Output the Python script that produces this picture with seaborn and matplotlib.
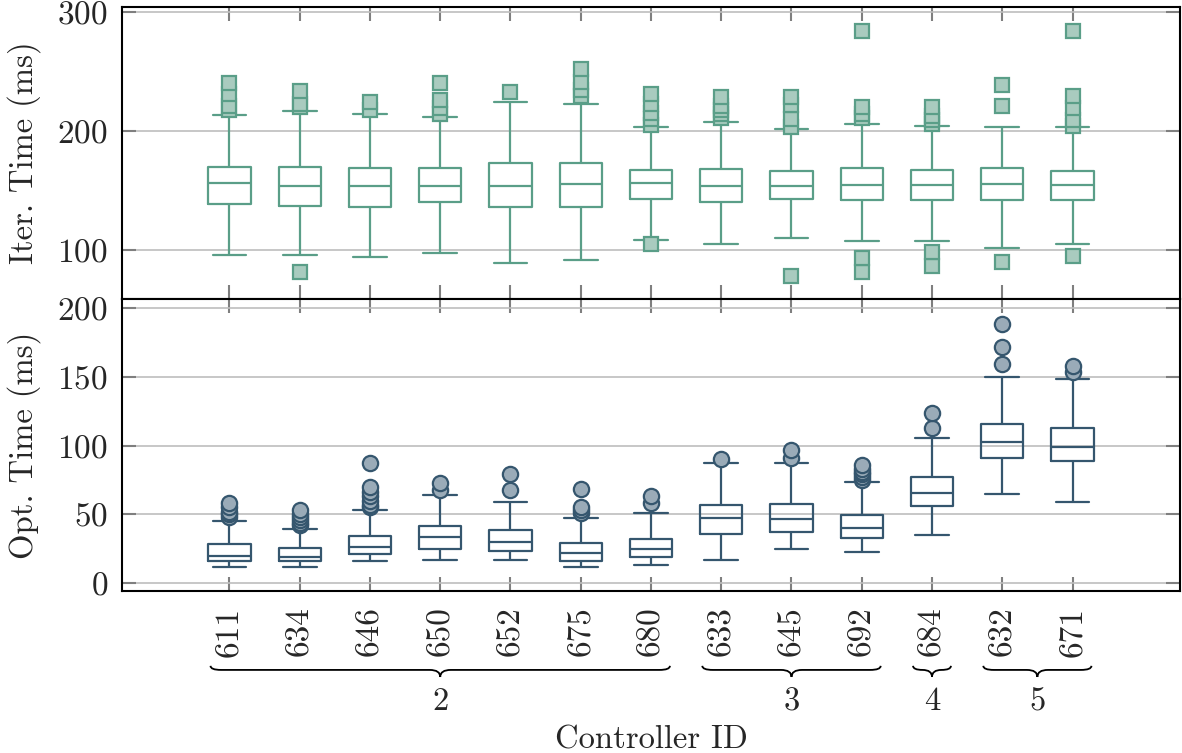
#
# Iteration / optimisation time per controller, grouped boxplots
#

import matplotlib
matplotlib.use("Agg")
import matplotlib.pyplot as plt
import matplotlib.transforms as mtransforms
from matplotlib.path import Path
from matplotlib.patches import PathPatch
import seaborn as sns
import pandas as pd

controllers = ["611", "634", "646", "650", "652", "675", "680",
               "633", "645", "692", "684", "632", "671"]
groups = [2, 2, 2, 2, 2, 2, 2, 3, 3, 3, 4, 5, 5]

# Iteration time (ms): whisker low, q1, median, q3, whisker high, fliers
iter_lo = [96.0, 96.4, 94.0, 97.5, 89.7, 92.0, 108.5, 105.6, 110.7, 107.6, 107.6, 102.3, 105.4]
iter_q1 = [138.7, 137.0, 136.7, 140.1, 136.1, 135.9, 142.6, 140.9, 142.9, 141.8, 141.8, 141.8, 141.8]
iter_med = [156.3, 153.8, 154.1, 154.1, 154.1, 155.5, 156.0, 154.1, 154.1, 154.6, 155.0, 155.8, 155.0]
iter_q3 = [170.1, 169.5, 168.9, 169.2, 172.9, 172.9, 167.0, 167.8, 166.7, 168.9, 167.0, 168.9, 166.4]
iter_hi = [213.8, 217.0, 214.3, 211.8, 224.4, 223.0, 203.1, 207.5, 201.4, 205.6, 204.0, 203.1, 203.1]
iter_fliers = [
    [218, 221, 231, 240],
    [82, 220, 223, 233.5],
    [218, 224],
    [214, 219.5, 226, 240],
    [233],
    [229, 234, 241, 252],
    [105, 205, 210, 215, 223, 231],
    [211, 214, 217.5, 221, 228.5],
    [78.7, 203.4, 210.4, 221.6, 228.6],
    [81.5, 93.3, 211, 214, 220, 284],
    [87.1, 98.3, 206, 209, 213, 220],
    [89.9, 221, 239],
    [95, 204.5, 209, 219, 229.5, 284],
]

# Optimisation time (ms)
opt_lo = [11.6, 11.6, 15.7, 16.7, 17.1, 12.0, 12.8, 17.1, 24.9, 22.5, 35.0, 64.8, 58.8]
opt_q1 = [16.4, 16.2, 20.8, 24.9, 23.2, 16.0, 18.9, 36.0, 37.2, 32.9, 56.1, 91.2, 88.5]
opt_med = [20.0, 18.9, 26.3, 33.4, 29.8, 21.8, 25.1, 47.6, 46.9, 40.4, 65.3, 102.3, 98.7]
opt_q3 = [28.5, 25.6, 34.1, 41.8, 38.7, 29.5, 32.1, 56.8, 57.8, 49.3, 77.4, 115.8, 112.9]
opt_hi = [45.2, 39.4, 53.4, 64.3, 58.8, 47.4, 51.0, 87.1, 87.1, 73.5, 105.4, 150.0, 148.5]
opt_fliers = [
    [48, 50, 52, 55, 58],
    [42, 44, 46, 48, 50, 53],
    [55, 57, 60, 63, 66.5, 69.7, 87.5],
    [68, 72.6],
    [67.7, 79.1],
    [51, 53, 55.6, 68.4],
    [58, 63.6],
    [90],
    [90.7, 96.7],
    [75, 77, 79, 81, 83, 86],
    [112.9, 123.8],
    [159.2, 171.7, 188.7],
    [153.6, 157.7],
]


def box_samples(lo, q1, med, q3, hi, fliers, m=30):
    # values whose quartiles / whiskers reproduce the read-off box exactly
    return list(fliers) + [lo, hi] + [q1] * m + [med] * m + [q3] * m


def to_frame(lo, q1, med, q3, hi, fliers):
    rows = []
    for i, c in enumerate(controllers):
        for v in box_samples(lo[i], q1[i], med[i], q3[i], hi[i], fliers[i]):
            rows.append((c, v))
    return pd.DataFrame(rows, columns=["controller", "value"])


teal, teal_fill = "#5a9e88", "#a9cbbf"
navy, navy_fill = "#35566e", "#9aabb8"

sns.set_style("white")
plt.rcParams["font.family"] = ["cmr10", "DejaVu Serif"]
plt.rcParams["mathtext.fontset"] = "cm"
plt.rcParams["axes.formatter.use_mathtext"] = True
plt.rcParams["axes.unicode_minus"] = False
fs = 23.5
tick_fs = 24

fig, (ax_top, ax_bot) = plt.subplots(2, 1, figsize=(11.82, 7.53), dpi=100)
fig.subplots_adjust(left=0.1032, right=0.9983, top=0.9907, bottom=0.2147, hspace=0)

data_iter = to_frame(iter_lo, iter_q1, iter_med, iter_q3, iter_hi, iter_fliers)
data_opt = to_frame(opt_lo, opt_q1, opt_med, opt_q3, opt_hi, opt_fliers)

sns.boxplot(data=data_iter, x="controller", y="value", order=controllers, ax=ax_top,
            fill=False, color=teal, linewidth=1.6, width=0.6, whis=1.5, capwidths=0.48,
            flierprops=dict(marker="s", markersize=9.5, markerfacecolor=teal_fill,
                            markeredgecolor=teal, markeredgewidth=1.6))
sns.boxplot(data=data_opt, x="controller", y="value", order=controllers, ax=ax_bot,
            fill=False, color=navy, linewidth=1.6, width=0.6, whis=1.5, capwidths=0.48,
            flierprops=dict(marker="o", markersize=11, markerfacecolor=navy_fill,
                            markeredgecolor=navy, markeredgewidth=1.6))

for ax in (ax_top, ax_bot):
    ax.set_xlim(-1.53, 13.53)
    ax.set_xticks(range(len(controllers)))
    ax.grid(axis="y", color="#bdbdbd", linewidth=1.2)
    ax.grid(axis="x", visible=False)
    ax.set_axisbelow(True)
    ax.tick_params(direction="in", length=10, width=1.5, color="#7f7f7f",
                   top=True, bottom=True, left=True, right=True, labelsize=tick_fs)
    ax.tick_params(axis="y", pad=10)
    for s in ax.spines.values():
        s.set_color("black")
        s.set_linewidth(1.5)
    ax.set_xlabel("")

ax_top.set_ylim(59, 304)
ax_top.set_yticks([100, 200, 300])
ax_top.tick_params(axis="x", labelbottom=False)
ax_top.set_ylabel("Iter. Time (ms)", fontsize=fs, labelpad=12)

ax_bot.set_ylim(-6, 206.5)
ax_bot.set_yticks([0, 50, 100, 150, 200])
ax_bot.set_xticklabels(controllers)
ax_bot.tick_params(axis="x", labelrotation=90, pad=11)
ax_bot.set_ylabel("Opt. Time (ms)", fontsize=fs, labelpad=12)
fig.align_ylabels([ax_top, ax_bot])

# curly braces grouping the controllers
trans = mtransforms.blended_transform_factory(ax_bot.transData, ax_bot.transAxes)
y_top, y_mid, y_tip = -0.255, -0.269, -0.293
for g in sorted(set(groups)):
    idx = [i for i, gg in enumerate(groups) if gg == g]
    x0, x1 = idx[0] - 0.27, idx[-1] + 0.27
    xc = (x0 + x1) / 2
    r = min(0.15, (x1 - x0) / 4)
    verts = [(x0, y_top), (x0, y_mid), (x0 + r, y_mid), (xc - r, y_mid),
             (xc, y_mid), (xc, y_tip), (xc, y_mid), (xc + r, y_mid),
             (x1 - r, y_mid), (x1, y_mid), (x1, y_top)]
    codes = [Path.MOVETO, Path.CURVE3, Path.CURVE3, Path.LINETO,
             Path.CURVE3, Path.CURVE3, Path.CURVE3, Path.CURVE3,
             Path.LINETO, Path.CURVE3, Path.CURVE3]
    ax_bot.add_patch(PathPatch(Path(verts, codes), transform=trans, fill=False,
                               edgecolor="black", linewidth=1.3, clip_on=False))
    ax_bot.text(xc, -0.378, str(g), transform=trans, ha="center", va="center", fontsize=fs)

ax_bot.text(0.5, -0.508, "Controller ID", transform=ax_bot.transAxes,
            ha="center", va="center", fontsize=fs)

plt.savefig("out.png", dpi=100)
